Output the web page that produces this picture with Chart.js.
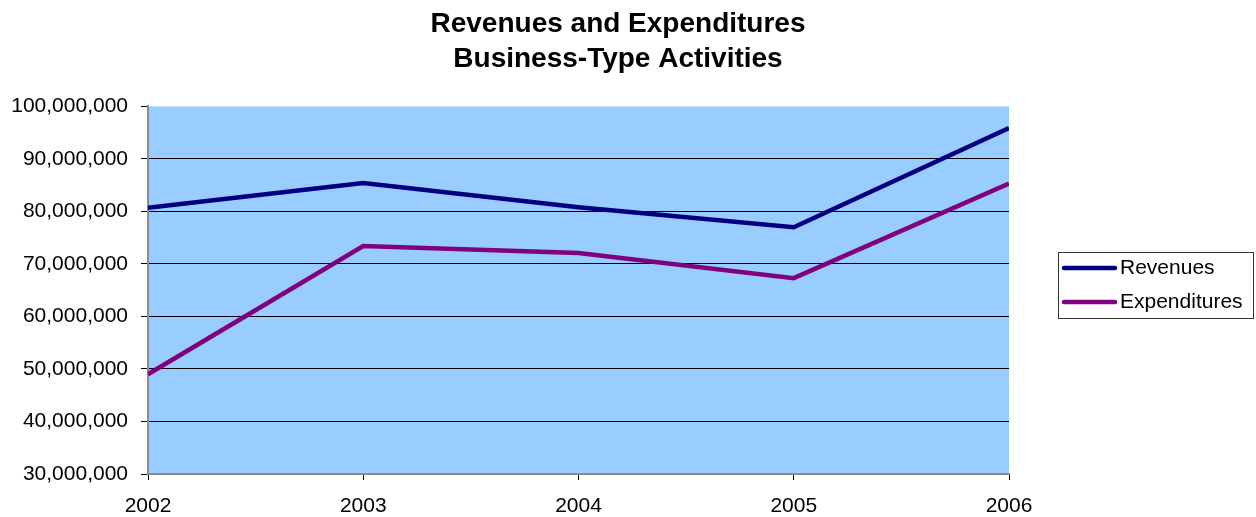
<!DOCTYPE html>
<html>
<head>
<meta charset="utf-8">
<title>Revenues and Expenditures</title>
<script src="https://cdn.jsdelivr.net/npm/chart.js@4/dist/chart.umd.min.js"></script>
<style>
  html, body { margin: 0; padding: 0; background: #fff; }
  canvas { display: block; }
</style>
</head>
<body>
<canvas id="grafik" width="1256" height="517"></canvas>
<script>
// Yillar va seriyalar
const years = ['2002', '2003', '2004', '2005', '2006'];
const revenues = [80700000, 85400000, 80800000, 77000000, 95900000];
const expenditures = [49000000, 73400000, 72100000, 67300000, 85300000];
const seriesNames = ['Revenues', 'Expenditures'];
const seriesColors = ['#000080', '#800080'];
const titleLines = ['Revenues and Expenditures', 'Business-Type Activities'];

const FONT = '"Liberation Sans", Arial, sans-serif';

// Chizish maydoni foni
const plotBackground = {
  id: 'plotBackground',
  beforeDraw(chart, args, opts) {
    const { ctx, chartArea } = chart;
    ctx.save();
    ctx.fillStyle = '#ffffff';
    ctx.fillRect(0, 0, chart.width, chart.height);
    ctx.fillStyle = opts.color;
    ctx.fillRect(chartArea.left, chartArea.top, chartArea.right - chartArea.left, chartArea.bottom - chartArea.top);
    ctx.restore();
  }
};

// Ramkali legenda (o'ng tomonda)
const boxedLegend = {
  id: 'boxedLegend',
  afterDraw(chart, args, opts) {
    const { ctx } = chart;
    ctx.save();
    ctx.strokeStyle = opts.borderColor;
    ctx.lineWidth = 1;
    ctx.strokeRect(opts.x + 0.5, opts.y + 0.5, opts.width, opts.height);

    ctx.font = opts.fontSize + 'px ' + FONT;
    ctx.textBaseline = 'middle';
    ctx.textAlign = 'left';
    chart.data.datasets.forEach((ds, i) => {
      const y = opts.y + opts.firstRow + i * opts.rowGap;
      ctx.strokeStyle = ds.borderColor;
      ctx.lineWidth = ds.borderWidth;
      ctx.lineCap = 'round';
      ctx.beginPath();
      ctx.moveTo(opts.x + opts.lineStart, y);
      ctx.lineTo(opts.x + opts.lineStart + opts.lineLength, y);
      ctx.stroke();
      ctx.fillStyle = '#000';
      ctx.fillText(ds.label, opts.x + opts.textStart, y);
    });
    ctx.restore();
  }
};

const ctx = document.getElementById('grafik').getContext('2d');
new Chart(ctx, {
  type: 'line',
  data: {
    labels: years,
    datasets: [
      {
        label: seriesNames[0],
        data: revenues,
        borderColor: seriesColors[0],
        borderWidth: 4.5,
        pointRadius: 0,
        tension: 0,
        clip: 0
      },
      {
        label: seriesNames[1],
        data: expenditures,
        borderColor: seriesColors[1],
        borderWidth: 4.5,
        pointRadius: 0,
        tension: 0,
        clip: 0
      }
    ]
  },
  options: {
    responsive: false,
    animation: false,
    layout: { padding: { left: 0, right: 20, top: 0, bottom: 0 } },
    plugins: {
      legend: { display: false },
      tooltip: { enabled: false },
      title: {
        display: true,
        text: titleLines,
        color: '#000',
        font: { family: FONT, size: 28, weight: 'bold', lineHeight: 1.24 },
        padding: { top: 7, bottom: 30 }
      },
      plotBackground: { color: '#99ccff' },
      boxedLegend: {
        x: 1058, y: 252, width: 195, height: 66,
        borderColor: '#333333',
        fontSize: 21,
        firstRow: 16, rowGap: 34,
        lineStart: 6, lineLength: 51, textStart: 62
      }
    },
    scales: {
      x: {
        offset: false,
        afterFit(scale) { scale.height = 43; },
        grid: {
          drawOnChartArea: false,
          drawTicks: true,
          tickLength: 6,
          tickColor: '#000'
        },
        border: { color: '#8c8c8c', width: 2 },
        ticks: {
          color: '#000',
          padding: 14,
          maxRotation: 0,
          font: { family: FONT, size: 21 }
        }
      },
      y: {
        min: 30000000,
        max: 100000000,
        afterFit(scale) { scale.width = 148; },
        grid: {
          color: (c) => (c.tick && (c.tick.value === 30000000 || c.tick.value === 100000000)) ? 'rgba(0,0,0,0)' : '#000',
          lineWidth: 1,
          tickLength: 7,
          tickColor: '#000'
        },
        border: { color: '#8c8c8c', width: 2 },
        ticks: {
          stepSize: 10000000,
          color: '#000',
          padding: 13,
          font: { family: FONT, size: 21 },
          callback: (v) => Number(v).toLocaleString('en-US')
        }
      },
      // legenda uchun o'ngda joy
      legendSpace: {
        type: 'linear',
        position: 'right',
        display: true,
        afterFit(scale) { scale.width = 227; },
        grid: { display: false, drawTicks: false },
        border: { display: false },
        ticks: { display: false }
      }
    }
  },
  plugins: [plotBackground, boxedLegend]
});
</script>
</body>
</html>
